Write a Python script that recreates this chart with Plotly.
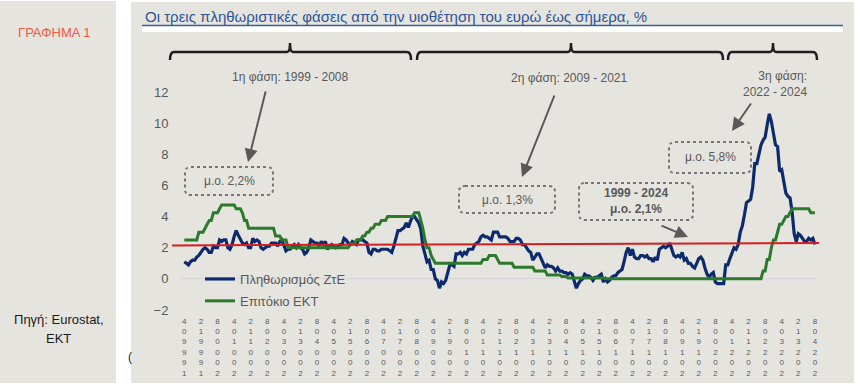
import plotly.graph_objects as go
import pandas as pd

# ---------------- data ----------------
start_month = "1999-04"
end_month = "2024-08"

# Euro area HICP inflation, % y/y (monthly, Apr 1999 - Aug 2024)
hicp = [
    1.1, 1.0, 0.9, 1.1, 1.2, 1.2, 1.4, 1.5, 1.7,                      # 1999 (Apr-Dec)
    1.9, 2.0, 1.9, 1.7, 1.7, 2.1, 2.0, 2.0, 2.5, 2.4, 2.5, 2.5,       # 2000
    2.0, 1.9, 2.2, 2.7, 3.1, 2.8, 2.5, 2.3, 2.2, 2.3, 2.0, 2.0,       # 2001
    2.6, 2.4, 2.5, 2.4, 2.0, 1.9, 2.0, 2.1, 2.1, 2.3, 2.3, 2.3,       # 2002
    2.1, 2.4, 2.5, 2.1, 1.8, 1.9, 1.9, 2.1, 2.2, 2.0, 2.2, 2.0,       # 2003
    1.9, 1.6, 1.7, 2.0, 2.5, 2.4, 2.3, 2.3, 2.1, 2.4, 2.2, 2.4,       # 2004
    1.9, 2.1, 2.2, 2.1, 2.0, 2.1, 2.2, 2.2, 2.6, 2.5, 2.3, 2.2,       # 2005
    2.4, 2.3, 2.2, 2.5, 2.5, 2.5, 2.4, 2.3, 1.7, 1.6, 1.9, 1.9,       # 2006
    1.8, 1.8, 1.9, 1.9, 1.9, 1.9, 1.8, 1.7, 2.1, 2.6, 3.1, 3.1,       # 2007
    3.2, 3.3, 3.6, 3.3, 3.7, 4.0, 4.0, 3.8, 3.6, 3.2, 2.1, 1.6,       # 2008
    1.1, 1.2, 0.6, 0.6, 0.0, -0.1, -0.6, -0.2, -0.3, -0.1, 0.5, 0.9,  # 2009
    0.9, 0.8, 1.6, 1.6, 1.7, 1.5, 1.7, 1.6, 1.9, 1.9, 1.9, 2.2,       # 2010
    2.3, 2.4, 2.7, 2.8, 2.7, 2.7, 2.6, 2.5, 3.0, 3.0, 3.0, 2.7,       # 2011
    2.7, 2.7, 2.7, 2.6, 2.4, 2.4, 2.4, 2.6, 2.6, 2.5, 2.2, 2.2,       # 2012
    2.0, 1.8, 1.7, 1.2, 1.4, 1.6, 1.6, 1.3, 1.1, 0.7, 0.9, 0.8,       # 2013
    0.8, 0.7, 0.5, 0.7, 0.5, 0.5, 0.4, 0.4, 0.3, 0.4, 0.3, -0.2,      # 2014
    -0.6, -0.3, -0.1, 0.0, 0.3, 0.2, 0.2, 0.1, -0.1, 0.1, 0.1, 0.2,   # 2015
    0.3, -0.2, 0.0, -0.2, -0.1, 0.1, 0.2, 0.2, 0.4, 0.5, 0.6, 1.1,    # 2016
    1.7, 2.0, 1.5, 1.9, 1.4, 1.3, 1.3, 1.5, 1.5, 1.4, 1.5, 1.3,       # 2017
    1.3, 1.1, 1.4, 1.2, 1.9, 2.0, 2.1, 2.0, 2.1, 2.3, 1.9, 1.5,       # 2018
    1.4, 1.5, 1.4, 1.7, 1.2, 1.3, 1.0, 1.0, 0.8, 0.7, 1.0, 1.3,       # 2019
    1.4, 1.2, 0.7, 0.3, 0.1, 0.3, 0.4, -0.2, -0.3, -0.3, -0.3, -0.3,  # 2020
    0.9, 0.9, 1.3, 1.6, 2.0, 1.9, 2.2, 3.0, 3.4, 4.1, 4.9, 5.0,       # 2021
    5.1, 5.9, 7.4, 7.4, 8.1, 8.6, 8.9, 9.1, 9.9, 10.6, 10.1, 9.2,     # 2022
    8.6, 8.5, 6.9, 7.0, 6.1, 5.5, 5.3, 5.2, 4.3, 2.9, 2.4, 2.9,       # 2023
    2.8, 2.6, 2.4, 2.4, 2.6, 2.5, 2.6, 2.2,                           # 2024 (Jan-Aug)
]

# ECB main refinancing rate, % (monthly, Apr 1999 - Aug 2024)
ecb = [
    2.5, 2.5, 2.5, 2.5, 2.5, 2.5, 2.5, 3.0, 3.0,                               # 1999
    3.0, 3.25, 3.5, 3.75, 3.75, 4.25, 4.25, 4.25, 4.5, 4.75, 4.75, 4.75,       # 2000
    4.75, 4.75, 4.75, 4.75, 4.5, 4.5, 4.5, 4.25, 3.75, 3.75, 3.25, 3.25,       # 2001
    3.25, 3.25, 3.25, 3.25, 3.25, 3.25, 3.25, 3.25, 3.25, 3.25, 3.25, 2.75,    # 2002
    2.75, 2.75, 2.5, 2.5, 2.5, 2.0, 2.0, 2.0, 2.0, 2.0, 2.0, 2.0,              # 2003
    2.0, 2.0, 2.0, 2.0, 2.0, 2.0, 2.0, 2.0, 2.0, 2.0, 2.0, 2.0,                # 2004
    2.0, 2.0, 2.0, 2.0, 2.0, 2.0, 2.0, 2.0, 2.0, 2.0, 2.0, 2.25,               # 2005
    2.25, 2.25, 2.5, 2.5, 2.5, 2.75, 2.75, 3.0, 3.0, 3.25, 3.25, 3.5,          # 2006
    3.5, 3.5, 3.75, 3.75, 3.75, 4.0, 4.0, 4.0, 4.0, 4.0, 4.0, 4.0,             # 2007
    4.0, 4.0, 4.0, 4.0, 4.0, 4.0, 4.25, 4.25, 4.25, 3.75, 3.25, 2.5,           # 2008
    2.0, 2.0, 1.5, 1.25, 1.0, 1.0, 1.0, 1.0, 1.0, 1.0, 1.0, 1.0,               # 2009
    1.0, 1.0, 1.0, 1.0, 1.0, 1.0, 1.0, 1.0, 1.0, 1.0, 1.0, 1.0,                # 2010
    1.0, 1.0, 1.0, 1.25, 1.25, 1.25, 1.5, 1.5, 1.5, 1.5, 1.25, 1.0,            # 2011
    1.0, 1.0, 1.0, 1.0, 1.0, 1.0, 0.75, 0.75, 0.75, 0.75, 0.75, 0.75,          # 2012
    0.75, 0.75, 0.75, 0.75, 0.5, 0.5, 0.5, 0.5, 0.5, 0.5, 0.25, 0.25,          # 2013
    0.25, 0.25, 0.25, 0.25, 0.25, 0.15, 0.15, 0.15, 0.05, 0.05, 0.05, 0.05,    # 2014
    0.05, 0.05, 0.05, 0.05, 0.05, 0.05, 0.05, 0.05, 0.05, 0.05, 0.05, 0.05,    # 2015
    0.05, 0.05, 0.0, 0.0, 0.0, 0.0, 0.0, 0.0, 0.0, 0.0, 0.0, 0.0,              # 2016
    0.0, 0.0, 0.0, 0.0, 0.0, 0.0, 0.0, 0.0, 0.0, 0.0, 0.0, 0.0,                # 2017
    0.0, 0.0, 0.0, 0.0, 0.0, 0.0, 0.0, 0.0, 0.0, 0.0, 0.0, 0.0,                # 2018
    0.0, 0.0, 0.0, 0.0, 0.0, 0.0, 0.0, 0.0, 0.0, 0.0, 0.0, 0.0,                # 2019
    0.0, 0.0, 0.0, 0.0, 0.0, 0.0, 0.0, 0.0, 0.0, 0.0, 0.0, 0.0,                # 2020
    0.0, 0.0, 0.0, 0.0, 0.0, 0.0, 0.0, 0.0, 0.0, 0.0, 0.0, 0.0,                # 2021
    0.0, 0.0, 0.0, 0.0, 0.0, 0.0, 0.5, 0.5, 1.25, 1.25, 2.0, 2.5,              # 2022
    2.5, 3.0, 3.5, 3.5, 3.75, 4.0, 4.0, 4.25, 4.5, 4.5, 4.5, 4.5,              # 2023
    4.5, 4.5, 4.5, 4.5, 4.5, 4.25, 4.25, 4.25,                                 # 2024
]

# straight red reference line (average 1999-2024), value at its left / right end
avg_line_values = [2.15, 2.3]

series_names = ["Πληθωρισμός ΖτΕ", "Επιτόκιο ΕΚΤ"]
tick_step = 8  # one category label every 8 months

months = pd.period_range(start_month, end_month, freq="M")
x_idx = [(p.year - 1999) * 12 + (p.month - 1) for p in months]
tick_months = months[::tick_step]
tick_vals = [(p.year - 1999) * 12 + (p.month - 1) for p in tick_months]
tick_text = ["<br>".join(f"{p.year}{p.month:02d}"[::-1]) for p in tick_months]

# ---------------- layout helpers (pixel -> paper) ----------------
W, H = 862, 387
L, R, T, B = 181, 817, 92, 310
Y_MIN, Y_MAX = -2, 12
X_RANGE = [1.4, 308.0]


def px(x):
    return (x - L) / (R - L)


def py(y):
    return (B - y) / (B - T)


def vy(v):
    return (v - Y_MIN) / (Y_MAX - Y_MIN)


def P(x, y):
    return f"{px(x):.5f},{py(y):.5f}"


def brace_path(x0, x1, xm, ybar=52, yend=60, ytip=43, r=4):
    return (f"M{P(x0, yend)} Q{P(x0, ybar)} {P(x0 + r, ybar)} "
            f"L{P(xm - 3, ybar)} Q{P(xm, ybar)} {P(xm, ytip)} "
            f"Q{P(xm, ybar)} {P(xm + 3, ybar)} "
            f"L{P(x1 - r, ybar)} Q{P(x1, ybar)} {P(x1, yend)}")


def rrect_path(x0, y0, x1, y1, r=6):
    return (f"M{P(x0 + r, y0)} L{P(x1 - r, y0)} Q{P(x1, y0)} {P(x1, y0 + r)} "
            f"L{P(x1, y1 - r)} Q{P(x1, y1)} {P(x1 - r, y1)} "
            f"L{P(x0 + r, y1)} Q{P(x0, y1)} {P(x0, y1 - r)} "
            f"L{P(x0, y0 + r)} Q{P(x0, y0)} {P(x0 + r, y0)} Z")


FONT = "Liberation Sans, Arial, sans-serif"
PANEL = "#e5e4df"
GREY_TXT = "#595959"

fig = go.Figure()
fig.add_trace(go.Scatter(x=x_idx, y=hicp, mode="lines", name=series_names[0],
                         line=dict(color="#0d2a6c", width=3.2), legendgroup="a"))
fig.add_trace(go.Scatter(x=x_idx, y=ecb, mode="lines", name=series_names[1],
                         line=dict(color="#2b7a2b", width=3), legendgroup="b"))

shapes = []
# panels
shapes.append(dict(type="rect", xref="paper", yref="paper", x0=px(0), x1=px(116),
                   y0=py(1), y1=py(383), fillcolor=PANEL, line=dict(width=0), layer="below"))
shapes.append(dict(type="rect", xref="paper", yref="paper", x0=px(131), x1=px(854),
                   y0=py(2), y1=py(383), fillcolor=PANEL, line=dict(width=0), layer="below"))
# title underline + white band
shapes.append(dict(type="rect", xref="paper", yref="paper", x0=px(142), x1=px(843),
                   y0=py(26), y1=py(32), fillcolor="white", line=dict(width=0), layer="below"))
shapes.append(dict(type="line", xref="paper", yref="paper", x0=px(142), x1=px(843),
                   y0=py(25.5), y1=py(25.5), line=dict(color="#3a5fa0", width=1.5)))
# braces for the three phases
for (a, b, m) in [(170, 411, 290), (417, 723, 571), (728, 817, 773)]:
    shapes.append(dict(type="path", xref="paper", yref="paper", path=brace_path(a, b, m),
                       line=dict(color="#1f1f1f", width=2.5)))
# dotted rounded boxes
for (a, b, c, d) in [(185, 167, 273, 195), (459, 186, 555, 213),
                     (579, 183, 693, 220), (669, 142, 751, 173)]:
    shapes.append(dict(type="path", xref="paper", yref="paper", path=rrect_path(a, b, c, d),
                       line=dict(color="#767676", width=2, dash="dot")))
# red average line
shapes.append(dict(type="line", xref="paper", yref="paper", x0=px(172), x1=px(819),
                   y0=vy(avg_line_values[0]), y1=vy(avg_line_values[1]),
                   line=dict(color="#d21f1f", width=2), layer="above"))

ann = []


def text(x, y, s, size=12, color=GREY_TXT, xanchor="center", align="center"):
    ann.append(dict(x=px(x), y=py(y), xref="paper", yref="paper", text=s, showarrow=False,
                    xanchor=xanchor, yanchor="middle", align=align,
                    font=dict(family=FONT, size=size, color=color)))


def arrow(hx, hy, tx, ty):
    ann.append(dict(x=px(hx), y=py(hy), xref="paper", yref="paper", text="",
                    showarrow=True, ax=tx - hx, ay=ty - hy, arrowhead=2, arrowsize=1.3,
                    arrowwidth=2, arrowcolor="#595959", standoff=0))


text(143, 17, "Οι τρεις πληθωριστικές φάσεις από την υιοθέτηση του ευρώ έως σήμερα, %",
     size=15, color="#2e5597", xanchor="left", align="left")
text(55, 32, "ΓΡΑΦΗΜΑ 1", size=13, color="#ec5a44")
text(59, 319, "Πηγή: Eurostat,", size=13, color="#1a1a1a")
text(59, 338, "ΕΚΤ", size=13, color="#1a1a1a")
text(130, 357, "(", size=12, color="#1a1a1a")

text(290, 77, "1η φάση: 1999 - 2008")
text(569, 78, "2η φάση: 2009 - 2021")
text(809, 84, "3η φάση:<br>2022 - 2024", xanchor="right", align="right")

text(229, 181, "μ.ο. 2,2%")
text(507, 200, "μ.ο. 1,3%")
text(636, 201, "<b>1999 - 2024</b><br><b>μ.ο. 2,1%</b>")
text(710, 157, "μ.ο. 5,8%")

arrow(248, 162, 266, 90)
arrow(522, 177, 555, 94)
arrow(732, 131, 752, 102)
arrow(688, 237, 660, 225)

fig.update_layout(
    width=W, height=H, autosize=False,
    margin=dict(l=L, r=W - R, t=T, b=H - B, pad=0, autoexpand=False),
    paper_bgcolor="white", plot_bgcolor="rgba(0,0,0,0)",
    font=dict(family=FONT, color=GREY_TXT),
    shapes=shapes, annotations=ann,
    showlegend=True,
    legend=dict(x=px(200), y=py(264), xanchor="left", yanchor="top",
                bgcolor="rgba(0,0,0,0)", font=dict(size=13, color=GREY_TXT),
                traceorder="grouped", tracegroupgap=2, itemwidth=30),
    xaxis=dict(range=X_RANGE, tickmode="array", tickvals=tick_vals, ticktext=tick_text,
               showgrid=False, zeroline=False, showline=False, automargin=False,
               ticks="outside", ticklen=3, tickcolor="rgba(0,0,0,0)",
               tickangle=0, tickfont=dict(size=8, color=GREY_TXT)),
    yaxis=dict(range=[Y_MIN, Y_MAX], tickmode="array", tickvals=list(range(-2, 13, 2)),
               showgrid=False, zeroline=True, zerolinecolor="#d6d6d6", zerolinewidth=1,
               showline=False, automargin=False,
               ticks="outside", ticklen=9, tickcolor="rgba(0,0,0,0)",
               tickfont=dict(size=13, color=GREY_TXT)),
)

fig.write_html("out.html", config={"displayModeBar": False},
               post_script="document.body.style.margin='0px';document.body.style.overflow='hidden';")
